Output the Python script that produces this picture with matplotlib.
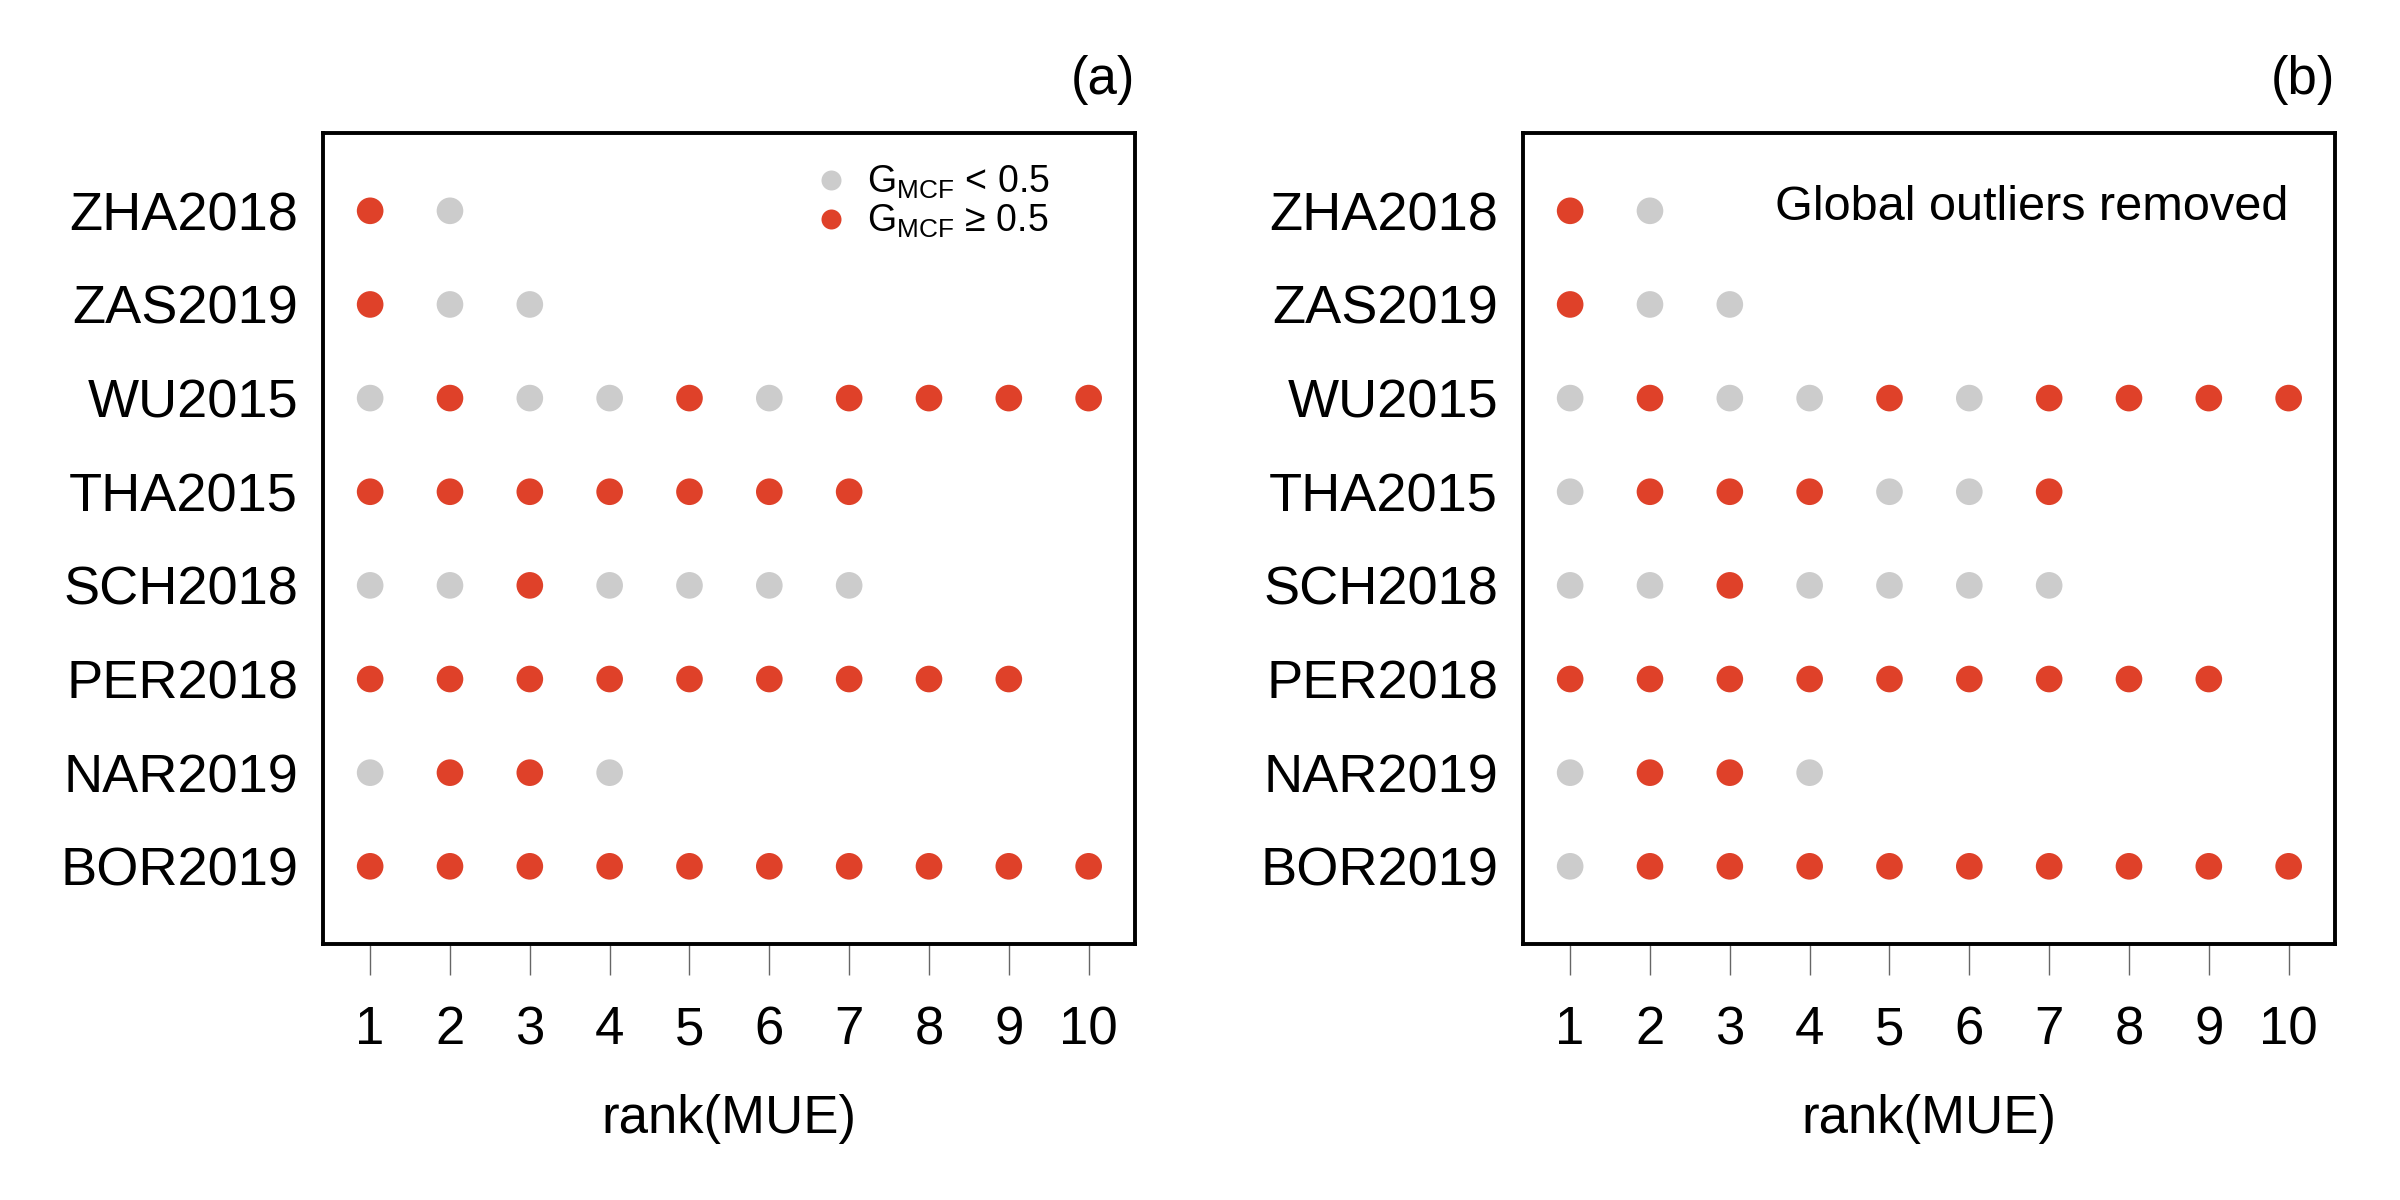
import matplotlib
matplotlib.use("Agg")
import matplotlib.pyplot as plt
from matplotlib.lines import Line2D

plt.rcParams['font.family'] = ['Liberation Sans', 'DejaVu Sans']
plt.rcParams['mathtext.fontset'] = 'custom'
plt.rcParams['mathtext.rm'] = 'Liberation Sans'
plt.rcParams['mathtext.it'] = 'Liberation Sans:italic'

# Categories (bottom to top)
studies = ["BOR2019", "NAR2019", "PER2018", "SCH2018", "THA2015", "WU2015", "ZAS2019", "ZHA2018"]
ranks = list(range(1, 11))

# 1 = G_MCF >= 0.5, 0 = G_MCF < 0.5 ; listed by rank 1..n
panel_a = {
    "ZHA2018": [1, 0],
    "ZAS2019": [1, 0, 0],
    "WU2015":  [0, 1, 0, 0, 1, 0, 1, 1, 1, 1],
    "THA2015": [1, 1, 1, 1, 1, 1, 1],
    "SCH2018": [0, 0, 1, 0, 0, 0, 0],
    "PER2018": [1, 1, 1, 1, 1, 1, 1, 1, 1],
    "NAR2019": [0, 1, 1, 0],
    "BOR2019": [1, 1, 1, 1, 1, 1, 1, 1, 1, 1],
}
panel_b = {
    "ZHA2018": [1, 0],
    "ZAS2019": [1, 0, 0],
    "WU2015":  [0, 1, 0, 0, 1, 0, 1, 1, 1, 1],
    "THA2015": [0, 1, 1, 1, 0, 0, 1],
    "SCH2018": [0, 0, 1, 0, 0, 0, 0],
    "PER2018": [1, 1, 1, 1, 1, 1, 1, 1, 1],
    "NAR2019": [0, 1, 1, 0],
    "BOR2019": [0, 1, 1, 1, 1, 1, 1, 1, 1, 1],
}

RED = "#DF4129"
GRAY = "#CCCCCC"

fig = plt.figure(figsize=(12, 6), dpi=200)
ax_a = fig.add_axes([0.1346, 0.2133, 0.3383, 0.6758])
ax_b = fig.add_axes([0.6346, 0.2133, 0.3383, 0.6758])


def draw(ax, data, label):
    for yi, s in enumerate(studies, start=1):
        flags = data[s]
        xs = ranks[:len(flags)]
        cols = [RED if f else GRAY for f in flags]
        ax.scatter(xs, [yi] * len(xs), s=92, c=cols, edgecolors='none', zorder=3)
    ax.set_xlim(0.41, 10.58)
    ax.set_ylim(0.17, 8.83)
    ax.set_xticks(ranks)
    ax.set_xticklabels([str(r) for r in ranks])
    ax.set_yticks(range(1, len(studies) + 1))
    ax.set_yticklabels(studies)
    ax.tick_params(axis='x', direction='out', length=11, width=0.5, color='#666666',
                   pad=11, labelsize=19)
    ax.tick_params(axis='y', length=0, pad=9, labelsize=19.5)
    for sp in ax.spines.values():
        sp.set_linewidth(1.4)
        sp.set_color('black')
    ax.set_xlabel("rank(MUE)", fontsize=19, labelpad=14)
    ax.text(1.0, 1.035, label, transform=ax.transAxes, ha='right', va='bottom', fontsize=19)


draw(ax_a, panel_a, "(a)")
draw(ax_b, panel_b, "(b)")

handles = [
    Line2D([], [], marker='o', linestyle='none', markersize=7.2, markerfacecolor=GRAY, markeredgecolor='none'),
    Line2D([], [], marker='o', linestyle='none', markersize=7.2, markerfacecolor=RED, markeredgecolor='none'),
]
labels = [r"G$_{\mathrm{MCF}}$ < 0.5", r"G$_{\mathrm{MCF}}$ ≥ 0.5"]
ax_a.legend(handles, labels, loc='upper left', bbox_to_anchor=(0.58, 0.985), frameon=False,
            fontsize=13.5, handlelength=1.0, handletextpad=0.45, labelspacing=0.05, borderpad=0)

ax_b.text(10.0, 8.03, "Global outliers removed", ha='right', va='center', fontsize=17.5)

fig.savefig("out.png", dpi=200)
